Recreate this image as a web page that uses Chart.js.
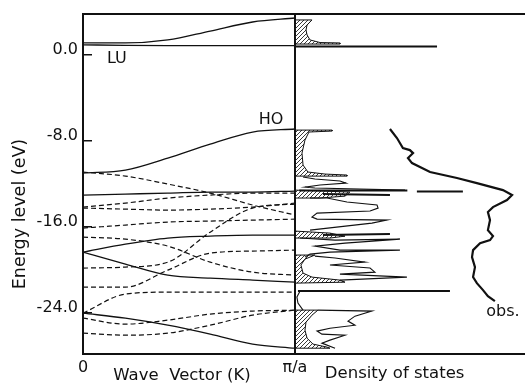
<!DOCTYPE html>
<html>
<head>
<meta charset="utf-8">
<script src="https://cdn.jsdelivr.net/npm/chart.js@4.4.1/dist/chart.umd.min.js"></script>
<style>
  html, body { margin: 0; padding: 0; background: #fff; }
  #wrap { width: 525px; height: 385px; }
</style>
</head>
<body>
<div id="wrap"><canvas id="c" width="525" height="385"></canvas></div>
<script>
/* Band structure (left, k from 0 to pi/a) + density of states (right) */

// wave vector samples, in units of pi/a
const K = [0, 0.2, 0.4, 0.6, 0.8, 1];

// energies (eV) at each K
const solidBands = [
    [1.12, 1.12, 1.40, 2.23, 3.07, 3.44],
    [0.95, 0.90, 0.88, 0.88, 0.88, 0.88],          // LU
    [-10.98, -10.70, -9.58, -8.28, -7.16, -6.88],  // HO
    [-13.02, -12.93, -12.84, -12.74, -12.74, -12.65],
    [-18.33, -17.58, -17.02, -16.84, -16.74, -16.74],
    [-18.33, -19.44, -20.47, -20.74, -20.93, -21.12],
    [-24.00, -24.47, -25.12, -25.95, -26.88, -27.26]
];
const dashedBands = [
    [-10.88, -11.26, -12.00, -12.84, -13.95, -14.88],
    [-14.14, -13.77, -13.30, -13.02, -12.84, -12.84],
    [-14.23, -14.33, -14.42, -14.33, -14.14, -13.77],
    [-16.09, -15.81, -15.53, -15.44, -15.35, -15.26],
    [-16.93, -17.12, -17.77, -19.26, -20.19, -20.47],
    [-19.81, -19.72, -19.26, -16.47, -14.23, -13.86],
    [-21.58, -21.58, -20.00, -18.42, -18.23, -18.14],
    [-24.00, -22.23, -22.05, -22.05, -22.05, -22.05],
    [-24.47, -25.02, -24.65, -24.09, -23.81, -23.72],
    [-25.86, -26.05, -25.86, -25.12, -24.19, -23.72]
];

// density of states: [dos (arb. units), energy eV]
const dosHatched = [
    [[0,3.26],[0.80,3.26],[0.57,2.79],[0.52,2.33],[0.57,1.86],[0.71,1.40],[1.18,1.16],[2.12,1.12],[2.12,1.02],[0,1.02]],
    [[0,-6.98],[1.75,-6.98],[1.75,-7.07],[0.66,-7.16],[0.47,-7.91],[0.33,-9.12],[0.38,-10.23],[0.61,-10.88],[1.42,-11.07],[2.45,-11.16],[2.45,-11.26],[0,-11.26]],
    [[0,-12.56],[2.59,-12.74],[2.36,-13.12],[1.18,-13.30],[0,-13.30]],
    [[0,-16.37],[1.65,-16.56],[2.36,-16.84],[1.65,-17.02],[0,-17.02]],
    [[0,-18.60],[0.94,-18.60],[0.47,-18.98],[0.28,-19.53],[0.38,-20.28],[0.80,-20.65],[2.12,-20.93],[2.36,-21.12],[0,-21.21]],
    [[0,-23.72],[1.08,-23.72],[0.80,-24.19],[0.52,-24.84],[0.47,-25.58],[0.57,-26.33],[0.85,-26.88],[1.51,-27.16],[1.65,-27.26],[0,-27.26]]
];
const dosOutline = [
    [[0.38,-11.35],[0.94,-11.53],[2.12,-11.72],[2.41,-11.91],[1.18,-12.09],[0.47,-12.28],[0.94,-12.37],[5.19,-12.56]],
    [[0.71,-13.30],[1.51,-13.30],[2.45,-13.67],[3.87,-13.95],[3.92,-14.23],[3.54,-14.51],[1.04,-14.70],[0.80,-15.07],[1.04,-15.26],[4.34,-15.35],[3.63,-15.63],[0.71,-16.28]],
    [[0.24,-17.02],[1.89,-17.21],[4.95,-17.12],[2.36,-17.49],[0.94,-17.77],[2.12,-18.14],[4.95,-18.14],[1.65,-18.33],[0.71,-18.51],[0.47,-18.79]],
    [[0.94,-18.70],[1.89,-18.88],[3.30,-19.26],[1.65,-19.53],[3.54,-19.81],[3.77,-20.19],[2.12,-20.37],[5.28,-20.65],[2.12,-20.93]],
    [[0.24,-21.95],[0.09,-22.51],[0.14,-23.07],[0.38,-23.72]],
    [[1.08,-23.72],[3.63,-23.81],[2.83,-24.28],[2.50,-24.74],[2.83,-25.12],[1.65,-25.40],[1.04,-25.67],[1.27,-25.95],[2.36,-26.05],[1.65,-26.51],[1.27,-26.79],[1.89,-27.26]]
];
const dosSpikes = [
    [[0,0.79],[6.70,0.79]],
    [[0.2,-12.60],[5.30,-12.60]],
    [[5.75,-12.70],[7.92,-12.70]],
    [[1.32,-12.93],[4.48,-13.02]],
    [[1.32,-16.74],[4.48,-16.65]],
    [[0.14,-21.95],[7.31,-21.95]]
];
// observed spectrum
const obsCurve = [
    [4.48,-6.88],[4.81,-7.72],[5.09,-8.65],[5.42,-8.84],[5.57,-9.12],[5.33,-9.58],[5.52,-10.05],
    [6.37,-10.88],[7.64,-11.44],[8.58,-11.91],[9.81,-12.56],[10.24,-13.02],[10.00,-13.49],
    [9.34,-14.14],[9.10,-14.60],[9.20,-15.35],[9.10,-16.28],[9.34,-16.84],[9.20,-17.21],
    [8.73,-17.49],[8.40,-18.14],[8.35,-18.79],[8.49,-19.72],[8.40,-20.65],[8.58,-21.21],
    [8.87,-21.86],[9.10,-22.42],[9.43,-22.88]
];

const yTicks = [0, -8, -16, -24];
const notes = [
    { text: 'LU', x: 0.16, y: -0.37 },
    { text: 'HO', x: 0.887, y: -6.05 },
    { text: 'obs.', dos: 9.81, y: -23.9 }
];

const DOS_UNIT = 10;          // dos units per pi/a on the shared x axis
const X_MAX = 1 + 10.85 / DOS_UNIT;
const INK = '#111';
const FONT = '"DejaVu Sans", sans-serif';

const toX = (d) => 1 + d / DOS_UNIT;
const bandPts = (ys) => K.map((k, i) => ({ x: k, y: ys[i] }));
const dosPts = (arr) => arr.map(([d, e]) => ({ x: toX(d), y: e }));

function makeHatch() {
    const c = document.createElement('canvas');
    c.width = c.height = 4;
    const g = c.getContext('2d');
    g.strokeStyle = '#222';
    g.lineWidth = 0.9;
    g.beginPath();
    g.moveTo(0, 4); g.lineTo(4, 0);
    g.moveTo(-1, 1); g.lineTo(1, -1);
    g.moveTo(3, 5); g.lineTo(5, 3);
    g.stroke();
    return g.createPattern(c, 'repeat');
}
const hatch = makeHatch();

const base = { showLine: true, pointRadius: 0, borderColor: INK, fill: false, tension: 0 };
const datasets = [];

solidBands.forEach(b => datasets.push({ ...base, data: bandPts(b), borderWidth: 1.3, cubicInterpolationMode: 'monotone' }));
dashedBands.forEach(b => datasets.push({ ...base, data: bandPts(b), borderWidth: 1.2, borderDash: [5, 3], cubicInterpolationMode: 'monotone' }));
dosHatched.forEach(p => datasets.push({ ...base, data: dosPts(p), borderWidth: 1, fill: 'shape', backgroundColor: hatch }));
dosOutline.forEach(p => datasets.push({ ...base, data: dosPts(p), borderWidth: 1.1 }));
dosSpikes.forEach(p => datasets.push({ ...base, data: dosPts(p), borderWidth: 2 }));
datasets.push({ ...base, data: dosPts(obsCurve), borderWidth: 2.2 });

// texts: axis titles and annotations
const textPlugin = {
    id: 'texts',
    beforeDraw(chart) {
        const { ctx } = chart;
        ctx.save();
        ctx.fillStyle = '#fff';
        ctx.fillRect(0, 0, chart.width, chart.height);
        ctx.restore();
    },
    afterDraw(chart) {
        const { ctx, scales: { x, y } } = chart;
        ctx.save();
        ctx.fillStyle = INK;
        ctx.textAlign = 'center';
        ctx.textBaseline = 'middle';
        ctx.font = '16px ' + FONT;
        notes.forEach(n => {
            const px = n.dos !== undefined ? x.getPixelForValue(toX(n.dos)) : x.getPixelForValue(n.x);
            ctx.fillText(n.text, px, y.getPixelForValue(n.y));
        });
        ctx.font = '16.5px ' + FONT;
        ctx.fillText('Wave  Vector (K)', x.getPixelForValue(0.467), 376);
        ctx.fillText('Density of states', x.getPixelForValue(toX(4.7)), 374);
        ctx.font = '17.5px ' + FONT;
        ctx.translate(20, 214);
        ctx.rotate(-Math.PI / 2);
        ctx.fillText('Energy level (eV)', 0, 0);
        ctx.restore();
    }
};

new Chart(document.getElementById('c'), {
    type: 'scatter',
    data: { datasets },
    options: {
        responsive: false, animation: false, devicePixelRatio: 1,
        layout: { padding: { top: 13.5, right: 0, left: 0, bottom: 0 } },
        plugins: { legend: { display: false }, tooltip: { enabled: false } },
        scales: {
            x: {
                type: 'linear', min: 0, max: X_MAX,
                afterBuildTicks: (s) => { s.ticks = [{ value: 0 }, { value: 1 }]; },
                afterFit: (s) => { s.height = 31; s.paddingLeft = 0; s.paddingRight = 0; },
                ticks: {
                    color: INK, font: { family: FONT, size: 16 }, padding: 4, maxRotation: 0,
                    callback: (v) => v === 0 ? '0' : 'π/a'
                },
                grid: { drawOnChartArea: true, drawTicks: false, color: INK, lineWidth: 2 },
                border: { display: true, color: INK, width: 2 }
            },
            x2: {
                type: 'linear', position: 'top', min: 0, max: X_MAX,
                afterFit: (s) => { s.height = 0; s.paddingLeft = 0; s.paddingRight = 0; },
                ticks: { display: false },
                grid: { display: false },
                border: { display: true, color: INK, width: 2 }
            },
            y: {
                type: 'linear', min: -27.8, max: 3.86,
                afterBuildTicks: (s) => { s.ticks = yTicks.map(v => ({ value: v })); },
                afterFit: (s) => { s.width = 83; s.paddingTop = 0; s.paddingBottom = 0; },
                ticks: {
                    color: INK, font: { family: FONT, size: 16 }, padding: 14, labelOffset: -5,
                    callback: (v) => v.toFixed(1)
                },
                grid: { drawOnChartArea: false, drawTicks: true, tickLength: -9, color: INK, lineWidth: 1.5 },
                border: { display: true, color: INK, width: 2 }
            }
        }
    },
    plugins: [textPlugin]
});
</script>
</body>
</html>
